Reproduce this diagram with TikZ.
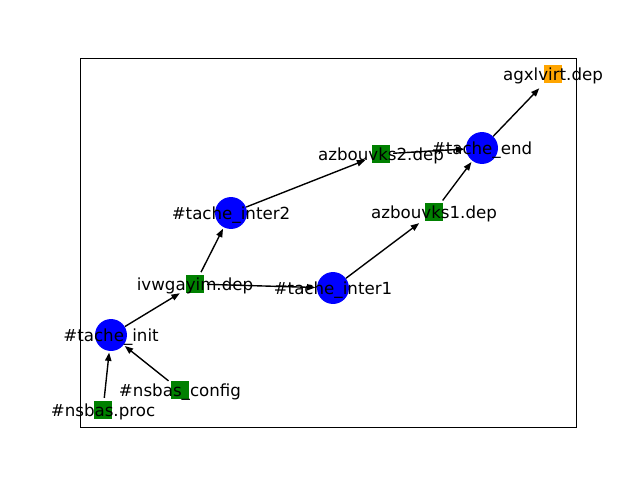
\documentclass[tikz,border=0pt]{standalone}
\usepackage{fontspec}
\setmainfont{DejaVu Sans}
\usetikzlibrary{arrows.meta}
\definecolor{nblue}{HTML}{0000FF}
\definecolor{ngreen}{HTML}{008000}
\definecolor{norange}{HTML}{FFA500}
\begin{document}
\begin{tikzpicture}[x=0.72pt,y=-0.72pt,
  task/.style={circle,fill=nblue,draw=none,minimum size=23pt,inner sep=0pt},
  file/.style={rectangle,fill=ngreen,draw=none,minimum size=13pt,inner sep=0pt},
  ofile/.style={rectangle,fill=norange,draw=none,minimum size=13pt,inner sep=0pt},
  lbl/.style={inner sep=0pt,yshift=-1.2pt,font=\fontsize{12pt}{14pt}\selectfont},
  edge/.style={line width=1pt,-{Triangle[length=6pt,width=4.5pt]},shorten >=1pt},
  tosq/.style={shorten >=5pt},
  fromsq/.style={shorten <=2pt}]
\useasboundingbox (0,0) rectangle (640,480);
\node[draw=black,line width=0.8pt,minimum width=496*0.72pt,minimum height=369*0.72pt,inner sep=0pt,anchor=north west] (frame) at (80,58) {};
% nodes
\node[ofile] (agx) at (553,74) {};
\node[task] (tend) at (482,148) {};
\node[file] (az2) at (381,154) {};
\node[file] (az1) at (434,212) {};
\node[task] (ti2) at (231,213) {};
\node[file] (ivw) at (195,284) {};
\node[task] (ti1) at (333,288) {};
\node[task] (tinit) at (111,335) {};
\node[file] (ncfg) at (180,390) {};
\node[file] (nproc) at (103,410) {};
% edges
\draw[edge,fromsq] (nproc) -- (tinit);
\draw[edge,fromsq] (ncfg) -- (tinit);
\draw[edge,tosq] (tinit) -- (ivw);
\draw[edge,fromsq] (ivw) -- (ti2);
\draw[edge,fromsq] (ivw) -- (ti1);
\draw[edge,tosq] (ti2) -- (az2);
\draw[edge,tosq] (ti1) -- (az1);
\draw[edge,fromsq] (az1) -- (tend);
\draw[edge,fromsq] (az2) -- (tend);
\draw[edge,tosq] (tend) -- (agx);
% labels
\node[lbl] (l-agx) at (553,74) {agxlvirt.dep};
\node[lbl] (l-tend) at (482,148) {\#tache\_end};
\node[lbl] (l-az2) at (381,154) {azbouvks2.dep};
\node[lbl] (l-az1) at (434,212) {azbouvks1.dep};
\node[lbl] (l-ti2) at (231,213) {\#tache\_inter2};
\node[lbl] (l-ivw) at (195,284) {ivwgayim.dep};
\node[lbl] (l-ti1) at (333,288) {\#tache\_inter1};
\node[lbl] (l-tinit) at (111,335) {\#tache\_init};
\node[lbl] (l-ncfg) at (180,390) {\#nsbas\_config};
\node[lbl] (l-nproc) at (103,410) {\#nsbas.proc};
\end{tikzpicture}
\end{document}
